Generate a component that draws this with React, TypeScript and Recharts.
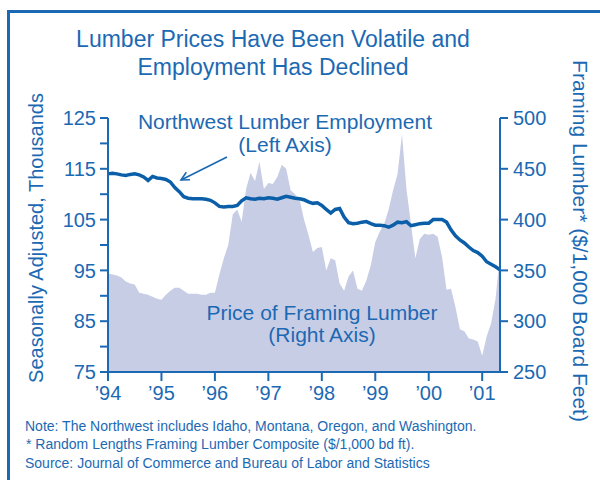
import React from "react";
import { ComposedChart, Area, Line, XAxis, YAxis } from "recharts";

const months = [
  "1994-01","1994-02","1994-03","1994-04","1994-05","1994-06","1994-07","1994-08","1994-09","1994-10","1994-11","1994-12",
  "1995-01","1995-02","1995-03","1995-04","1995-05","1995-06","1995-07","1995-08","1995-09","1995-10","1995-11","1995-12",
  "1996-01","1996-02","1996-03","1996-04","1996-05","1996-06","1996-07","1996-08","1996-09","1996-10","1996-11","1996-12",
  "1997-01","1997-02","1997-03","1997-04","1997-05","1997-06","1997-07","1997-08","1997-09","1997-10","1997-11","1997-12",
  "1998-01","1998-02","1998-03","1998-04","1998-05","1998-06","1998-07","1998-08","1998-09","1998-10","1998-11","1998-12",
  "1999-01","1999-02","1999-03","1999-04","1999-05","1999-06","1999-07","1999-08","1999-09","1999-10","1999-11","1999-12",
  "2000-01","2000-02","2000-03","2000-04","2000-05","2000-06","2000-07","2000-08","2000-09","2000-10","2000-11","2000-12",
  "2001-01","2001-02","2001-03","2001-04","2001-05"
];

// Northwest lumber employment, thousands (left axis)
const employment = [
  114.0, 114.1, 114.0, 113.8, 113.7, 113.9, 114.0, 113.8, 113.4, 112.7,
  113.5, 113.2, 113.1, 112.9, 112.4, 111.3, 110.5, 109.5, 109.2, 109.1,
  109.1, 109.1, 109.0, 108.8, 108.3, 107.6, 107.5, 107.6, 107.6, 107.8,
  108.7, 109.3, 109.1, 109.0, 109.2, 109.1, 109.3, 109.2, 109.0, 109.3,
  109.6, 109.4, 109.2, 109.1, 108.9, 108.5, 108.2, 108.3, 107.8, 107.0,
  106.3, 107.0, 107.2, 105.5, 104.4, 104.2, 104.3, 104.5, 104.6, 104.2,
  103.9, 103.9, 103.8, 103.5, 103.9, 104.5, 104.4, 104.6, 103.8, 104.0,
  104.2, 104.3, 104.3, 105.0, 105.0, 105.0, 104.5, 103.0, 101.8, 101.0,
  100.4, 99.6, 98.9, 98.5, 97.8, 96.7, 96.2, 95.7, 95.1
];

// Framing lumber price, $/1,000 board feet (right axis)
const price = [
  347, 346, 345, 343, 339, 337, 336, 328, 327, 326,
  324, 322, 321, 326, 330, 333, 333, 330, 327, 327,
  327, 326, 326, 328, 328, 346, 362, 375, 405, 410,
  398, 430, 446, 438, 457, 430, 436, 435, 442, 454,
  450, 429, 425, 420, 400, 385, 368, 372, 373, 350,
  362, 360, 337, 330, 344, 350, 332, 330, 340, 355,
  378, 388, 396, 410, 429, 445, 484, 430, 396, 362,
  381, 386, 385, 386, 383, 363, 331, 332, 314, 292,
  290, 283, 282, 280, 266, 285, 298, 322, 365
];

const yearTicks = ["1994-01","1995-01","1996-01","1997-01","1998-01","1999-01","2000-01","2001-01"];
const yearLabels = ["\u201994","\u201995","\u201996","\u201997","\u201998","\u201999","\u201900","\u201901"];
const leftTicks = [75, 80, 85, 90, 95, 100, 105, 110, 115, 120, 125];
const leftLabeled = [75, 85, 95, 105, 115, 125];
const rightTicks = [250, 300, 350, 400, 450, 500];

const data = months.map((m, i) => ({ month: m, emp: employment[i], price: price[i] }));

const BLUE = "#1c69b3";
const LINE = "#0b5fa8";
const FILL = "#c8cde6";
const FONT = "'Liberation Sans', Arial, Helvetica, sans-serif";

export default function App() {
  return (
    <div style={{ position: "absolute", left: 0, top: 0, width: 600, height: 480, overflow: "hidden", background: "#fff", fontFamily: FONT }}>
      <div style={{ position: "absolute", left: 7, top: 10, width: 700, height: 600, border: `3px solid ${BLUE}` }} />
      <div style={{ position: "absolute", left: 0, top: 0 }}>
        <ComposedChart width={600} height={480} data={data} margin={{ top: 118, right: 40, bottom: 78, left: 48 }}>
          <XAxis
            dataKey="month"
            type="category"
            ticks={yearTicks}
            interval={0}
            tickFormatter={(v: string) => { const k = yearTicks.indexOf(v); return k >= 0 ? yearLabels[k] : ""; }}
            height={30}
            tickSize={9}
            tickMargin={5}
            axisLine={{ stroke: BLUE, strokeWidth: 2 }}
            tickLine={{ stroke: BLUE, strokeWidth: 2 }}
            tick={{ fill: BLUE, fontSize: 20, fontFamily: FONT }}
          />
          <YAxis
            yAxisId="left"
            orientation="left"
            domain={[75, 125]}
            ticks={leftTicks}
            interval={0}
            tickFormatter={(v: number) => (leftLabeled.includes(v) ? String(v) : "")}
            width={60}
            tickSize={8}
            tickMargin={4}
            axisLine={{ stroke: BLUE, strokeWidth: 2 }}
            tickLine={{ stroke: BLUE, strokeWidth: 2 }}
            tick={{ fill: BLUE, fontSize: 20, fontFamily: FONT }}
          />
          <YAxis
            yAxisId="right"
            orientation="right"
            domain={[250, 500]}
            ticks={rightTicks}
            interval={0}
            width={60}
            tickSize={8}
            tickMargin={5}
            axisLine={{ stroke: BLUE, strokeWidth: 2 }}
            tickLine={{ stroke: BLUE, strokeWidth: 2 }}
            tick={{ fill: BLUE, fontSize: 20, fontFamily: FONT }}
          />
          <Area
            yAxisId="right"
            dataKey="price"
            type="linear"
            stroke="none"
            fill={FILL}
            fillOpacity={1}
            isAnimationActive={false}
          />
          <Line
            yAxisId="left"
            dataKey="emp"
            type="linear"
            stroke={LINE}
            strokeWidth={3.5}
            dot={false}
            isAnimationActive={false}
          />
        </ComposedChart>
      </div>
      <svg width={600} height={480} style={{ position: "absolute", left: 0, top: 0, pointerEvents: "none" }}>
        <g fill={BLUE} fontFamily={FONT}>
          <text x={273} y={47} fontSize={23} textAnchor="middle">Lumber Prices Have Been Volatile and</text>
          <text x={273} y={75} fontSize={23} textAnchor="middle">Employment Has Declined</text>
          <text transform="translate(43,238) rotate(-90)" fontSize={20} textAnchor="middle">Seasonally Adjusted, Thousands</text>
          <text transform="translate(573,241) rotate(90)" fontSize={21} textAnchor="middle">Framing Lumber* ($/1,000 Board Feet)</text>
          <text x={285} y={129} fontSize={21} textAnchor="middle">Northwest Lumber Employment</text>
          <text x={285} y={152} fontSize={21} textAnchor="middle">(Left Axis)</text>
          <text x={322} y={320} fontSize={21} textAnchor="middle">Price of Framing Lumber</text>
          <text x={322} y={342} fontSize={21} textAnchor="middle">(Right Axis)</text>
          <text x={25} y={431} fontSize={14}>Note: The Northwest includes Idaho, Montana, Oregon, and Washington.</text>
          <text x={26} y={449} fontSize={14}>* Random Lengths Framing Lumber Composite ($/1,000 bd ft).</text>
          <text x={25} y={468} fontSize={14}>Source: Journal of Commerce and Bureau of Labor and Statistics</text>
        </g>
        <g stroke={BLUE} strokeWidth={1.6} fill="none">
          <line x1={227} y1={157} x2={181} y2={180} />
          <polyline points="190,179.8 181,180 186.3,172.2" />
        </g>
      </svg>
    </div>
  );
}
